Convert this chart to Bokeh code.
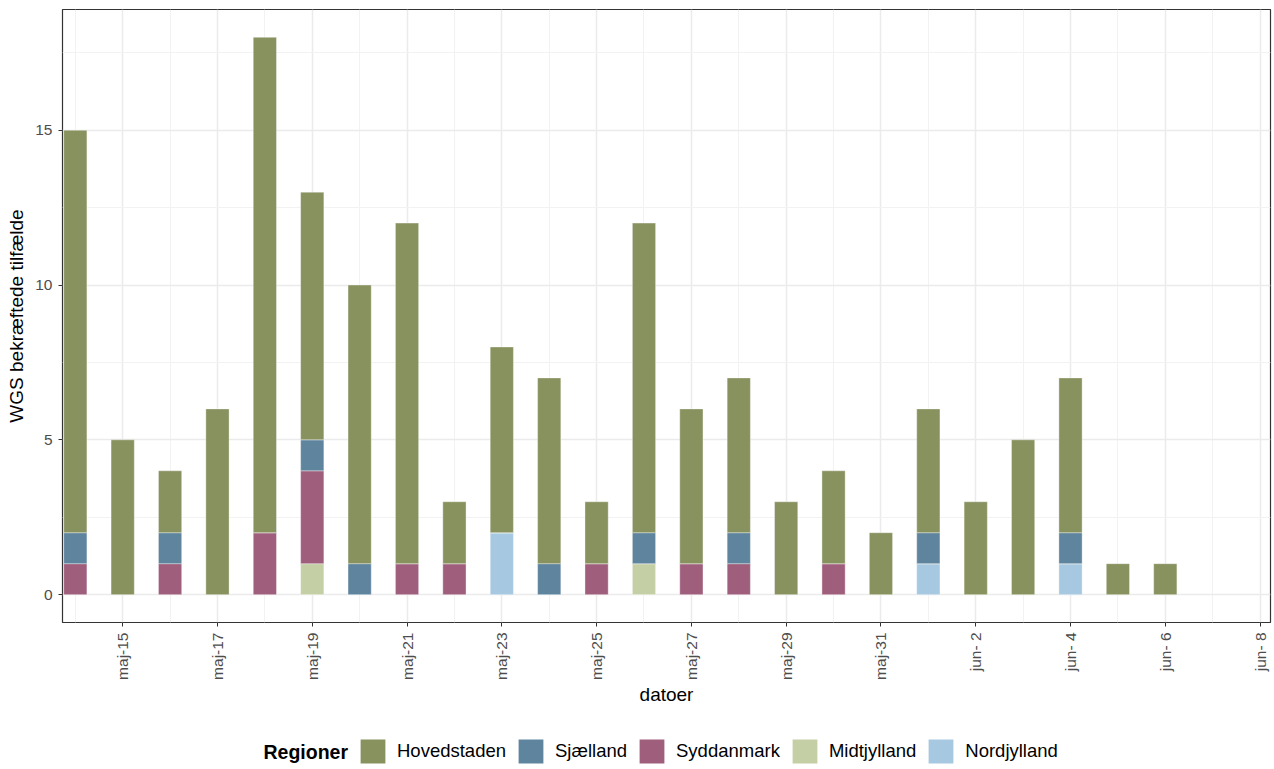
import math
import pandas as pd
from bokeh.plotting import figure
from bokeh.layouts import column
from bokeh.models import ColumnDataSource, Range1d, FixedTicker, Legend, LegendItem, Label
from bokeh.embed import file_html
from bokeh.resources import INLINE

# ---- data ----
dates = ["2020-05-14", "2020-05-15", "2020-05-16", "2020-05-17", "2020-05-18",
         "2020-05-19", "2020-05-20", "2020-05-21", "2020-05-22", "2020-05-23",
         "2020-05-24", "2020-05-25", "2020-05-26", "2020-05-27", "2020-05-28",
         "2020-05-29", "2020-05-30", "2020-05-31", "2020-06-01", "2020-06-02",
         "2020-06-03", "2020-06-04", "2020-06-05", "2020-06-06"]
hovedstaden = [13, 5, 2, 6, 16, 8, 9, 11, 2, 6, 6, 2, 10, 5, 5, 3, 3, 2, 4, 3, 5, 5, 1, 1]
sjaelland   = [1, 0, 1, 0, 0, 1, 1, 0, 0, 0, 1, 0, 1, 0, 1, 0, 0, 0, 1, 0, 0, 1, 0, 0]
syddanmark  = [1, 0, 1, 0, 2, 3, 0, 1, 1, 0, 0, 1, 0, 1, 1, 0, 1, 0, 0, 0, 0, 0, 0, 0]
midtjylland = [0, 0, 0, 0, 0, 1, 0, 0, 0, 0, 0, 0, 1, 0, 0, 0, 0, 0, 0, 0, 0, 0, 0, 0]
nordjylland = [0, 0, 0, 0, 0, 0, 0, 0, 0, 2, 0, 0, 0, 0, 0, 0, 0, 0, 1, 0, 0, 1, 0, 0]

regions = ["Hovedstaden", "Sjælland", "Syddanmark", "Midtjylland", "Nordjylland"]
colors = ["#87925F", "#5F849E", "#9F5F7C", "#C5CFA6", "#A6C8E1"]
legend_title = "Regioner"

tick_dates = ["2020-05-15", "2020-05-17", "2020-05-19", "2020-05-21", "2020-05-23",
              "2020-05-25", "2020-05-27", "2020-05-29", "2020-05-31", "2020-06-02",
              "2020-06-04", "2020-06-06", "2020-06-08"]
tick_labels = ["maj-15", "maj-17", "maj-19", "maj-21", "maj-23", "maj-25", "maj-27",
               "maj-29", "maj-31", "jun- 2", "jun- 4", "jun- 6", "jun- 8"]
y_ticks = [0, 5, 10, 15]

# ---- derived positions (days since first date) ----
base = pd.Timestamp(dates[0])
xs = [(pd.Timestamp(d) - base).days for d in dates]
tick_x = [(pd.Timestamp(d) - base).days for d in tick_dates]
minor_x = [t - 1 for t in tick_x]

keys = ["Hovedstaden", "Sjaelland", "Syddanmark", "Midtjylland", "Nordjylland"]
source = ColumnDataSource(dict(
    x=xs,
    Hovedstaden=hovedstaden,
    Sjaelland=sjaelland,
    Syddanmark=syddanmark,
    Midtjylland=midtjylland,
    Nordjylland=nordjylland,
))

FONT = "Liberation Sans"
W = 1273
LEFT, RIGHT = 62, 3

p = figure(width=W, height=712,
           x_range=Range1d(-0.27, 25.22), y_range=Range1d(-0.9, 18.9),
           output_backend="svg", toolbar_location=None,
           min_border_left=LEFT, min_border_right=RIGHT, min_border_top=9,
           min_border_bottom=90)

stack_order = keys[::-1]
stack_colors = colors[::-1]
p.vbar_stack(stack_order, x="x", width=0.49, source=source,
             color=stack_colors, line_color="white",
             line_width=0.6, line_alpha=0.6)

# axes / ticks
p.xaxis.ticker = FixedTicker(ticks=tick_x, minor_ticks=minor_x)
p.xaxis.major_label_overrides = {t: l for t, l in zip(tick_x, tick_labels)}
p.xaxis.major_label_orientation = math.pi / 2
p.yaxis.ticker = FixedTicker(ticks=y_ticks,
                             minor_ticks=[2.5, 7.5, 12.5, 17.5])

for ax in (p.xaxis[0], p.yaxis[0]):
    ax.axis_line_color = None
    ax.major_tick_line_color = "#333333"
    ax.major_tick_line_width = 1
    ax.major_tick_out = 4
    ax.major_tick_in = 0
    ax.minor_tick_line_color = None
    ax.major_label_text_font = FONT
    ax.major_label_text_font_size = "15.5px"
    ax.major_label_text_color = "#4D4D4D"
    ax.axis_label_text_font = FONT
    ax.axis_label_text_font_size = "19px"
    ax.axis_label_text_font_style = "normal"
    ax.axis_label_text_color = "#000000"

p.xaxis.axis_label = "datoer"
p.xaxis.major_label_standoff = 6
p.xaxis.axis_label_standoff = 1
p.yaxis.axis_label = "WGS bekræftede tilfælde"
p.yaxis.major_label_standoff = 6
p.yaxis.axis_label_standoff = 5

# grid
p.xgrid.ticker = p.xaxis.ticker
p.ygrid.ticker = p.yaxis.ticker
for g in (p.xgrid[0], p.ygrid[0]):
    g.grid_line_color = "#EBEBEB"
    g.grid_line_width = 1.5
    g.minor_grid_line_color = "#F2F2F2"
    g.minor_grid_line_width = 1

p.outline_line_color = "#333333"
p.outline_line_width = 1.2
p.background_fill_color = "white"
p.border_fill_color = "white"

# ---- legend strip below the chart (pixel coordinates) ----
LH = 56
lg = figure(width=W, height=LH, x_range=Range1d(LEFT, W - RIGHT), y_range=Range1d(0, LH),
            output_backend="svg", toolbar_location=None,
            x_axis_type=None, y_axis_type=None,
            min_border_left=LEFT, min_border_right=RIGHT,
            min_border_top=0, min_border_bottom=0)
lg.grid.visible = False
lg.outline_line_color = None
lg.background_fill_color = "white"
lg.border_fill_color = "white"

# key renderers (one point placed far outside the visible strip; only their legend swatch shows)
key_renderers = [lg.vbar(x=[-5000], bottom=[-5000], top=[-4999], width=1,
                         fill_color=c, line_color=None)
                 for c in colors]
items = [LegendItem(label=r, renderers=[kr]) for r, kr in zip(regions, key_renderers)]
legend = Legend(items=items, orientation="horizontal", location=(360 - 3 - LEFT, 2))
legend.label_text_font = FONT
legend.label_text_font_size = "18.5px"
legend.label_text_color = "#000000"
legend.label_standoff = 9
legend.glyph_width = 31
legend.glyph_height = 30
legend.label_height = 30
legend.spacing = 9
legend.padding = 0
legend.margin = 0
legend.border_line_color = None
legend.background_fill_alpha = 0
lg.add_layout(legend, "center")

lg.add_layout(Label(x=263, y=17, text=legend_title, text_font=FONT,
                    text_font_size="19.5px", text_font_style="bold",
                    text_baseline="middle", text_align="left",
                    text_color="#000000"))

layout = column(p, lg, spacing=0)
open("out.html", "w").write(file_html(layout, INLINE))
